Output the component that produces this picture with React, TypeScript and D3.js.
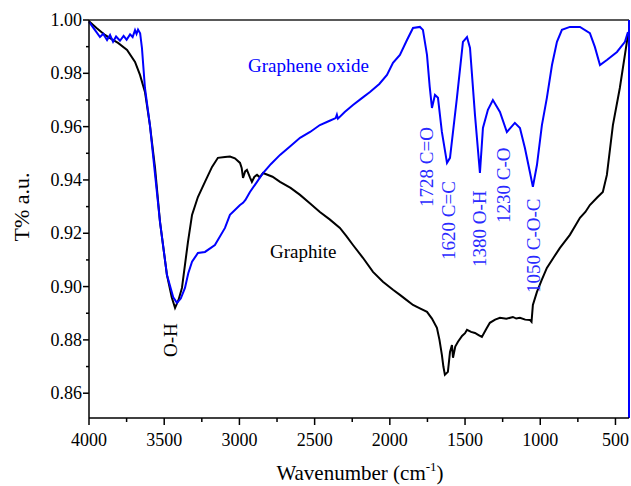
import * as d3 from "d3";

// FTIR spectra, [wavenumber cm-1, transmittance]
const graphite: [number, number][] = [
  [4000, 0.9995], [3950, 0.997], [3894, 0.9944], [3850, 0.9928], [3807, 0.9914],
  [3747, 0.9888], [3694, 0.9843], [3661, 0.9794], [3628, 0.973], [3595, 0.9606],
  [3561, 0.9445], [3528, 0.9243], [3482, 0.9044], [3450, 0.896], [3428, 0.892],
  [3405, 0.895], [3382, 0.8995], [3342, 0.9168], [3315, 0.9269], [3276, 0.9336],
  [3229, 0.9393], [3182, 0.9449], [3143, 0.9483], [3096, 0.9486], [3063, 0.9488],
  [3030, 0.9481], [2996, 0.9464], [2985, 0.9445], [2976, 0.9408], [2962, 0.9432],
  [2950, 0.9438], [2930, 0.941], [2917, 0.9393], [2900, 0.9412], [2883, 0.9419],
  [2865, 0.941], [2843, 0.9426], [2780, 0.9412], [2730, 0.9393], [2660, 0.937],
  [2597, 0.9344], [2530, 0.9312], [2465, 0.928], [2400, 0.9252], [2332, 0.922],
  [2290, 0.919], [2245, 0.9156], [2179, 0.9108], [2112, 0.9055], [2046, 0.9018],
  [1979, 0.8988], [1933, 0.8969], [1890, 0.895], [1846, 0.8931], [1800, 0.8918],
  [1753, 0.8905], [1720, 0.888], [1687, 0.8845], [1670, 0.880], [1654, 0.8744],
  [1644, 0.870], [1634, 0.8669], [1614, 0.868], [1600, 0.8755], [1587, 0.8781],
  [1580, 0.8733], [1565, 0.8775], [1547, 0.8793], [1520, 0.8815], [1500, 0.8825],
  [1487, 0.8838], [1460, 0.883], [1434, 0.8826], [1410, 0.8818], [1388, 0.8811],
  [1360, 0.884], [1335, 0.8864], [1300, 0.8876], [1268, 0.8883], [1225, 0.8879],
  [1182, 0.8886], [1160, 0.888], [1135, 0.8883], [1100, 0.8876], [1069, 0.8875],
  [1058, 0.8868], [1049, 0.8931], [1022, 0.898], [990, 0.9025], [956, 0.907],
  [910, 0.911], [869, 0.9145], [803, 0.9194], [770, 0.9225], [736, 0.9258],
  [700, 0.928], [670, 0.9306], [620, 0.9335], [584, 0.9355], [557, 0.9419],
  [517, 0.9606], [471, 0.9745], [424, 0.9918], [417, 0.9944],
];

const grapheneOxide: [number, number][] = [
  [4000, 0.9993], [3960, 0.9962], [3927, 0.9936], [3905, 0.9948], [3880, 0.9925],
  [3860, 0.9944], [3840, 0.9918], [3820, 0.9938], [3794, 0.9922], [3770, 0.994],
  [3750, 0.9926], [3727, 0.9946], [3710, 0.9936], [3694, 0.9962], [3684, 0.9948],
  [3674, 0.9964], [3660, 0.995], [3648, 0.9895], [3628, 0.9745], [3595, 0.9606],
  [3528, 0.9243], [3482, 0.9044], [3440, 0.896], [3415, 0.8939], [3390, 0.8955],
  [3362, 0.8995], [3340, 0.905], [3315, 0.9093], [3276, 0.9126], [3229, 0.913],
  [3163, 0.9156], [3096, 0.922], [3063, 0.9269], [2996, 0.9306], [2976, 0.9314],
  [2960, 0.9325], [2930, 0.9355], [2883, 0.9393], [2843, 0.9426], [2790, 0.946],
  [2730, 0.9494], [2660, 0.9527], [2597, 0.9558], [2530, 0.958], [2465, 0.9606],
  [2400, 0.9622], [2360, 0.9632], [2352, 0.9645], [2345, 0.963], [2300, 0.9655],
  [2245, 0.9681], [2190, 0.9705], [2132, 0.973], [2070, 0.976], [2019, 0.9794],
  [1979, 0.9839], [1933, 0.9869], [1886, 0.9925], [1846, 0.997], [1800, 0.9974],
  [1780, 0.9963], [1753, 0.9869], [1735, 0.975], [1720, 0.967], [1700, 0.9719],
  [1680, 0.9708], [1654, 0.958], [1620, 0.9464], [1600, 0.9483], [1554, 0.9708],
  [1514, 0.9918], [1487, 0.9936], [1467, 0.9895], [1434, 0.9644], [1401, 0.9426],
  [1381, 0.9595], [1348, 0.9663], [1315, 0.97], [1268, 0.9655], [1222, 0.958],
  [1169, 0.9614], [1135, 0.9595], [1102, 0.952], [1069, 0.943], [1049, 0.9374],
  [1022, 0.9456], [989, 0.9606], [956, 0.9708], [922, 0.9831], [889, 0.9918],
  [856, 0.9963], [803, 0.9974], [736, 0.9974], [670, 0.9951], [637, 0.9899],
  [603, 0.9831], [557, 0.985], [490, 0.988], [437, 0.9918], [417, 0.9955],
];

const xMajorTicks = [4000, 3500, 3000, 2500, 2000, 1500, 1000, 500];
const xMinorTicks = [3750, 3250, 2750, 2250, 1750, 1250, 750];
const yMajorTicks = [0.86, 0.88, 0.9, 0.92, 0.94, 0.96, 0.98, 1.0];
const yMinorTicks = [0.87, 0.89, 0.91, 0.93, 0.95, 0.97, 0.99];

const peakLabels = [
  { text: "1728 C=O", x: 433, y: 207 },
  { text: "1620 C=C", x: 455, y: 260 },
  { text: "1380 O-H", x: 486, y: 267 },
  { text: "1230 C-O", x: 510, y: 223 },
  { text: "1050 C-O-C", x: 540, y: 293 },
];

const W = 631;
const H = 486;
const margin = { left: 89, right: 2, top: 20, bottom: 68 };
const font = "'Liberation Serif', 'Times New Roman', serif";
const BLUE = "#0000ff";

export default function App() {
  const x = d3.scaleLinear().domain([4000, 410]).range([margin.left, W - margin.right]);
  const y = d3.scaleLinear().domain([0.8507, 1.0]).range([H - margin.bottom, margin.top]);
  const line = d3
    .line<[number, number]>()
    .x((d) => x(d[0]))
    .y((d) => y(d[1]));

  const x0 = margin.left;
  const x1 = W - margin.right;
  const y0 = H - margin.bottom;
  const y1 = margin.top;

  return (
    <svg
      width={W}
      height={H}
      style={{ position: "absolute", left: 0, top: 0, background: "#fff" }}
      fontFamily={font}
    >
      <path d={line(graphite) ?? ""} fill="none" stroke="#000" strokeWidth={2} />
      <path d={line(grapheneOxide) ?? ""} fill="none" stroke={BLUE} strokeWidth={2} />

      {/* frame */}
      <line x1={x0} x2={x1} y1={y1} y2={y1} stroke="#222" strokeWidth={1.5} />
      <line x1={x1} x2={x1} y1={y1} y2={y0} stroke={BLUE} strokeWidth={2} />
      <line x1={x0} x2={x0} y1={y1} y2={y0} stroke="#000" strokeWidth={1.5} />
      <line x1={x0} x2={x1} y1={y0} y2={y0} stroke="#000" strokeWidth={1.5} />

      {/* y axis */}
      {yMajorTicks.map((t) => (
        <g key={"ym" + t}>
          <line x1={x0 - 6} x2={x0} y1={y(t)} y2={y(t)} stroke="#000" strokeWidth={1.5} />
          <text x={x0 - 7} y={y(t) + 6} textAnchor="end" fontSize={18}>
            {t.toFixed(2)}
          </text>
        </g>
      ))}
      {yMinorTicks.map((t) => (
        <line key={"yn" + t} x1={x0 - 3} x2={x0} y1={y(t)} y2={y(t)} stroke="#000" strokeWidth={1.5} />
      ))}

      {/* x axis */}
      {xMajorTicks.map((t) => (
        <g key={"xm" + t}>
          <line x1={x(t)} x2={x(t)} y1={y0} y2={y0 + 7} stroke="#000" strokeWidth={1.5} />
          <text x={x(t)} y={y0 + 28} textAnchor="middle" fontSize={18}>
            {t}
          </text>
        </g>
      ))}
      {xMinorTicks.map((t) => (
        <line key={"xn" + t} x1={x(t)} x2={x(t)} y1={y0} y2={y0 + 4} stroke="#000" strokeWidth={1.5} />
      ))}

      <text x={360} y={480} textAnchor="middle" fontSize={21}>
        Wavenumber (cm
        <tspan fontSize={13} dy={-9}>-1</tspan>
        <tspan dy={9}>)</tspan>
      </text>
      <text transform="translate(29,207) rotate(-90)" textAnchor="middle" fontSize={22}>
        T% a.u.
      </text>

      {/* annotations */}
      <text x={248} y={72} fontSize={19} fill={BLUE}>
        Graphene oxide
      </text>
      <text x={270} y={258} fontSize={19} fill="#000">
        Graphite
      </text>
      <text transform="translate(177,357) rotate(-90)" fontSize={19} fill="#000">
        O-H
      </text>
      {peakLabels.map((p) => (
        <text
          key={p.text}
          transform={`translate(${p.x},${p.y}) rotate(-90)`}
          fontSize={19}
          fill="#2a2aff"
        >
          {p.text}
        </text>
      ))}
    </svg>
  );
}
